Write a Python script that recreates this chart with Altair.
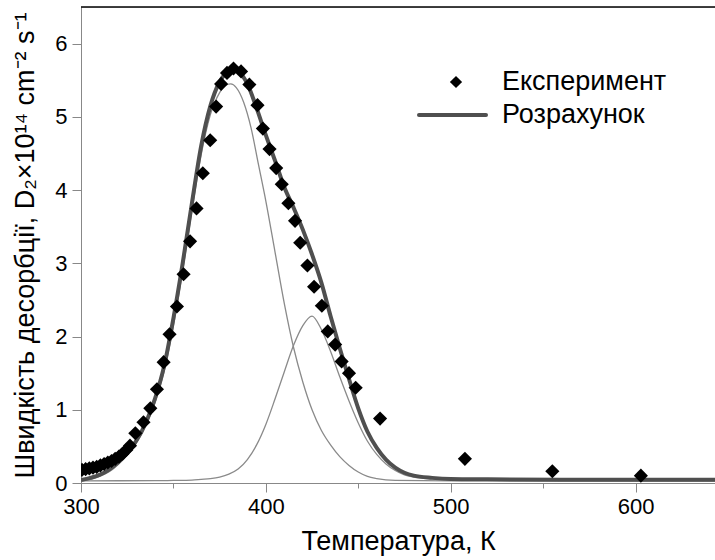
import altair as alt
import pandas as pd

# ---------------- data ----------------
exp_T = [300.5, 302.5, 304.5, 306.5, 308.5, 310.5, 312.5, 314.5, 316.5, 318.5,
         320.5, 322.5, 324.5, 326.5, 329.4, 333.8, 337.5, 341.1, 344.7, 347.9,
         351.9, 355.5, 359.0, 362.5, 365.9, 369.9, 373.1, 375.8, 379.0, 382.5,
         386.6, 391.1, 395.5, 398.4, 402.0, 405.6, 408.6, 412.2, 415.8, 418.6,
         422.5, 426.1, 430.3, 433.5, 437.5, 441.0, 445.0, 448.6, 461.8, 507.7,
         555.0, 602.9]
exp_R = [0.18, 0.19, 0.20, 0.21, 0.22, 0.24, 0.26, 0.28, 0.30, 0.33,
         0.36, 0.40, 0.45, 0.51, 0.68, 0.83, 1.02, 1.28, 1.65, 2.03,
         2.41, 2.85, 3.30, 3.75, 4.23, 4.68, 5.14, 5.45, 5.60, 5.66,
         5.62, 5.44, 5.16, 4.84, 4.56, 4.30, 4.08, 3.82, 3.58, 3.28,
         2.97, 2.68, 2.42, 2.07, 1.89, 1.66, 1.50, 1.30, 0.88, 0.33,
         0.16, 0.10]

calc_T = [300, 305, 310, 315, 320, 325, 330, 335, 340, 345, 350, 355, 360, 365,
          370, 375, 380, 383, 386, 390, 395, 400, 405, 410, 415, 420, 425, 430,
          435, 440, 445, 450, 455, 460, 465, 470, 475, 480, 490, 500, 520, 560,
          600, 643]
calc_R = [0.04, 0.07, 0.11, 0.18, 0.28, 0.41, 0.58, 0.82, 1.15, 1.60, 2.25, 3.00,
          3.82, 4.60, 5.15, 5.48, 5.62, 5.64, 5.60, 5.45, 5.12, 4.75, 4.40, 4.04,
          3.76, 3.46, 3.12, 2.74, 2.28, 1.84, 1.42, 1.02, 0.70, 0.48, 0.32, 0.21,
          0.14, 0.10, 0.07, 0.055, 0.05, 0.045, 0.045, 0.045]

peak1_T = [300, 305, 310, 315, 320, 325, 330, 335, 340, 345, 350, 355, 360, 365,
           370, 375, 378, 381, 384, 388, 392, 396, 400, 405, 410, 415, 420, 425,
           430, 435, 440, 445, 450, 455, 460, 470, 500, 643]
peak1_R = [0.03, 0.05, 0.09, 0.15, 0.25, 0.38, 0.55, 0.78, 1.10, 1.53, 2.15, 2.90,
           3.72, 4.48, 5.03, 5.33, 5.43, 5.45, 5.40, 5.20, 4.85, 4.35, 3.85, 3.15,
           2.45, 1.85, 1.38, 1.00, 0.72, 0.52, 0.36, 0.24, 0.15, 0.09, 0.06, 0.035,
           0.03, 0.03]

peak2_T = [300, 340, 350, 360, 365, 370, 375, 380, 385, 390, 395, 400, 405, 410,
           415, 420, 425, 430, 435, 440, 445, 450, 455, 460, 465, 470, 475, 480,
           490, 500, 520, 643]
peak2_R = [0.03, 0.032, 0.035, 0.04, 0.05, 0.06, 0.08, 0.12, 0.19, 0.32, 0.52, 0.80,
           1.15, 1.52, 1.88, 2.15, 2.28, 2.10, 1.80, 1.45, 1.12, 0.82, 0.57, 0.39,
           0.26, 0.17, 0.11, 0.08, 0.055, 0.043, 0.035, 0.03]

legend_labels = ["Експеримент", "Розрахунок"]
x_title = "Температура, К"
y_title = "Швидкість десорбції, D₂×10¹⁴ cm⁻² s⁻¹"
x_ticks = [300, 350, 400, 450, 500, 550, 600]
y_ticks = [0, 0.5, 1, 1.5, 2, 2.5, 3, 3.5, 4, 4.5, 5, 5.5, 6, 6.5]
x_domain = [300, 643]
y_domain = [0, 6.5]

FONT = "Liberation Sans"
W, H = 634, 476

exp_df = pd.DataFrame({"T": exp_T, "R": exp_R})
calc_df = pd.DataFrame({"T": calc_T, "R": calc_R})
p1_df = pd.DataFrame({"T": peak1_T, "R": peak1_R})
p2_df = pd.DataFrame({"T": peak2_T, "R": peak2_R})

x_axis = alt.Axis(
    values=x_ticks, title=x_title, grid=False, labelFlush=False,
    labelExpr="datum.value % 100 === 0 ? format(datum.value, 'd') : ''",
    tickSize={"condition": {"test": "datum.value % 100 === 0", "value": 9}, "value": 5},
    labelOverlap=False, labelFontSize=22, labelPadding=4,
    titleFontSize=27, titleFontWeight="normal", titleY=58, titleBaseline="middle",
    titlePadding=0,
)
y_axis = alt.Axis(
    values=y_ticks, title=y_title, grid=False, labelFlush=False,
    labelExpr="datum.value % 1 === 0 ? format(datum.value, 'd') : ''",
    tickSize={"condition": {"test": "datum.value % 1 === 0", "value": 9}, "value": 5},
    labelOverlap=False, labelFontSize=22, labelPadding=5,
    titleFontSize=27, titleFontWeight="normal", titleX=-56, titleBaseline="middle",
    titlePadding=0,
)

xs = alt.Scale(domain=x_domain, nice=False, zero=False)
ys = alt.Scale(domain=y_domain, nice=False, zero=False)

base_x = alt.X("T:Q", scale=xs, axis=x_axis)
base_y = alt.Y("R:Q", scale=ys, axis=y_axis)

peak1 = alt.Chart(p1_df).mark_line(color="#8a8a8a", strokeWidth=1.3, interpolate="monotone", clip=True).encode(
    x=base_x, y=base_y)
peak2 = alt.Chart(p2_df).mark_line(color="#8a8a8a", strokeWidth=1.3, interpolate="monotone", clip=True).encode(
    x="T:Q", y="R:Q")
calc = alt.Chart(calc_df).mark_line(color="#4f4f4f", strokeWidth=4, interpolate="monotone", clip=True).encode(
    x="T:Q", y="R:Q")
pts = alt.Chart(exp_df).mark_point(shape="diamond", filled=True, color="black", opacity=1, size=200, clip=True).encode(
    x="T:Q", y="R:Q")

one = pd.DataFrame({"a": [0]})
frame = alt.Chart(one).mark_rule(color="black", strokeWidth=1.5).encode(
    x=alt.value(0), x2=alt.value(W), y=alt.value(0))
leg_pt = alt.Chart(one).mark_point(shape="diamond", filled=True, color="black", opacity=1, size=150).encode(
    x=alt.value(375), y=alt.value(75))
leg_line = alt.Chart(one).mark_rule(color="#4f4f4f", strokeWidth=4, strokeCap="round").encode(
    x=alt.value(338), x2=alt.value(405), y=alt.value(108))
leg_t1 = alt.Chart(one).mark_text(align="left", baseline="middle", fontSize=27, font=FONT, color="black").encode(
    x=alt.value(421), y=alt.value(75), text=alt.value(legend_labels[0]))
leg_t2 = alt.Chart(one).mark_text(align="left", baseline="middle", fontSize=27, font=FONT, color="black").encode(
    x=alt.value(421), y=alt.value(108), text=alt.value(legend_labels[1]))

chart = alt.layer(peak1, peak2, calc, pts, frame, leg_pt, leg_line, leg_t1, leg_t2).properties(
    width=W, height=H,
    autosize=alt.AutoSizeParams(type="none"),
    padding={"left": 81, "top": 7, "right": 0, "bottom": 77},
).configure_view(stroke=None).configure_axis(
    labelFont=FONT, titleFont=FONT, labelColor="black", titleColor="black",
    domainColor="black", tickColor="black", domainWidth=1.5, tickWidth=1.5,
).configure(background="white")

chart.save("out.html", embed_options={"renderer": "svg", "actions": False})
